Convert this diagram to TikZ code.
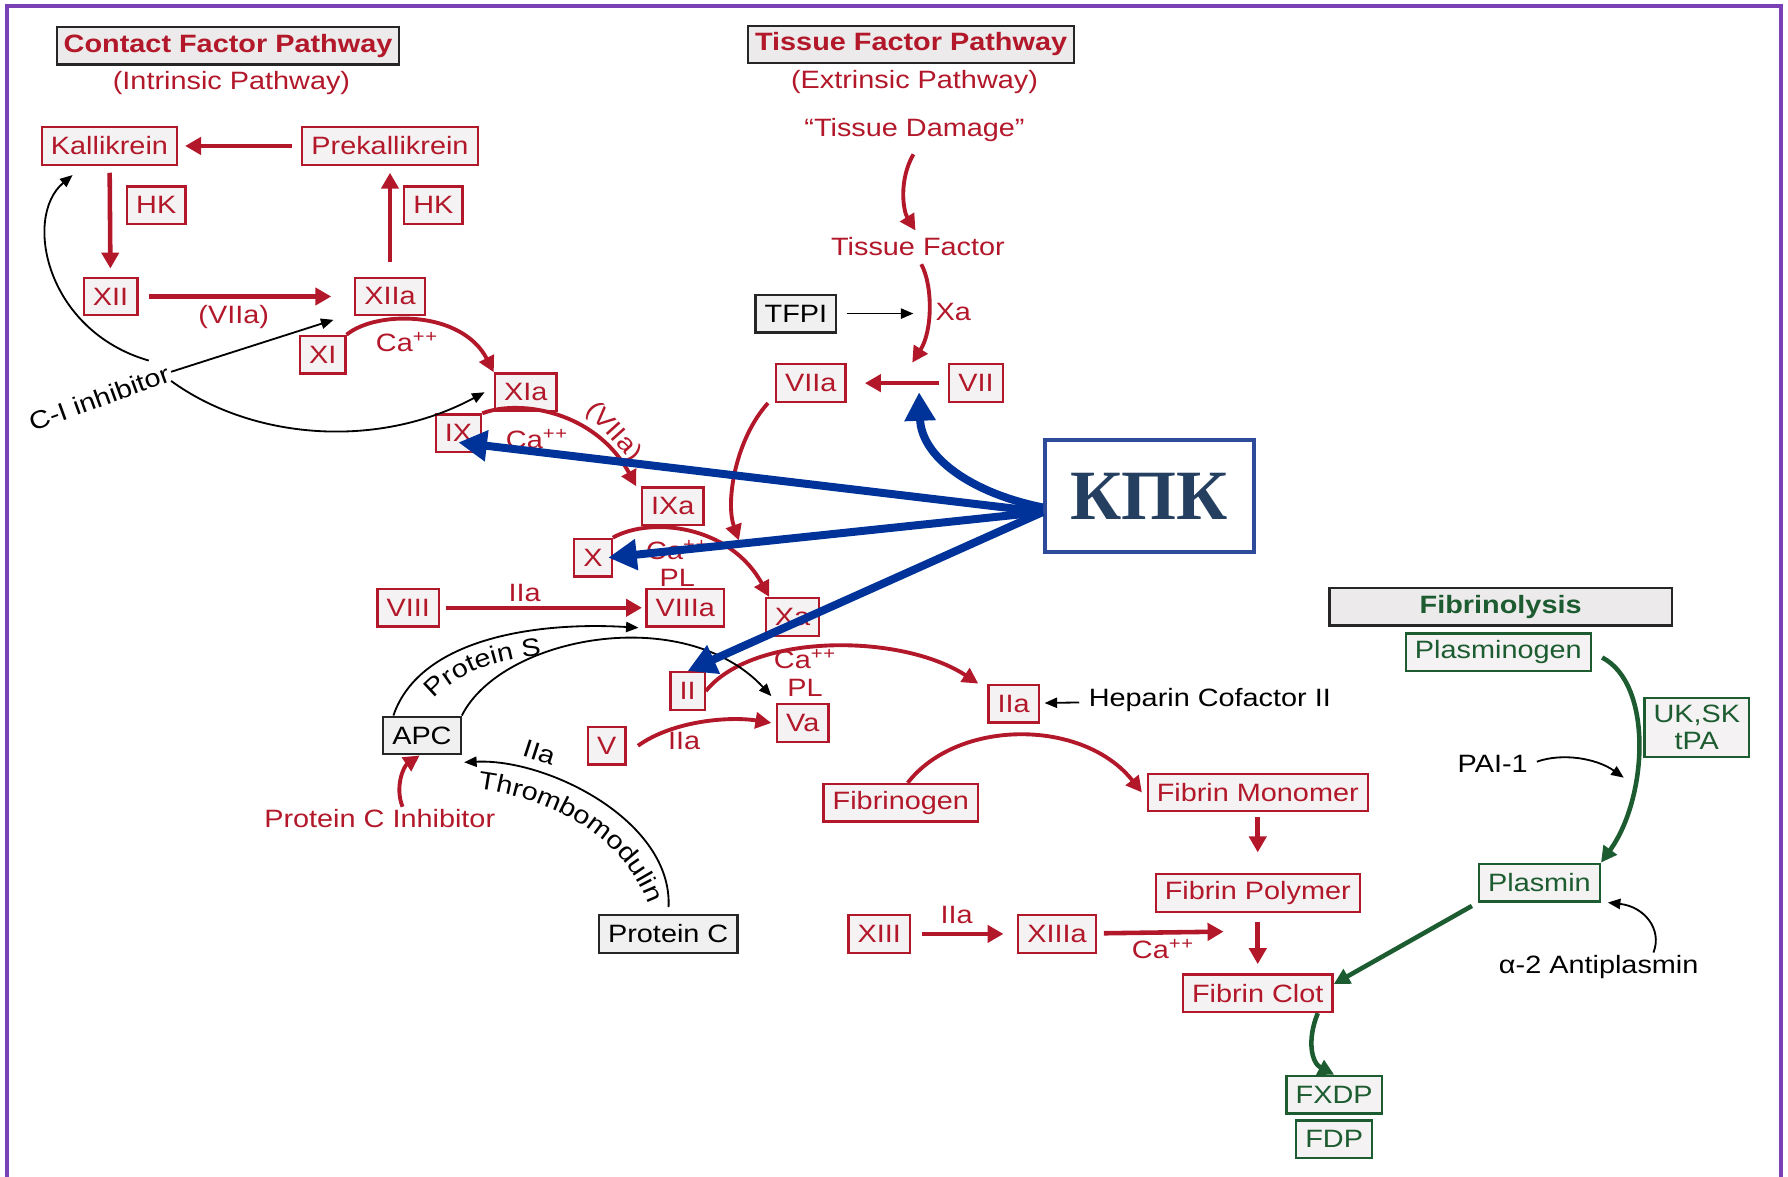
\documentclass[tikz,border=0pt]{standalone}
\usepackage{fontspec}
\setmainfont{Liberation Sans}[FakeStretch=1.15]
\newfontfamily\kpkfont{Liberation Serif}
\usetikzlibrary{arrows.meta,decorations.text}
\definecolor{fred}{RGB}{178,24,42}
\definecolor{fgreen}{RGB}{28,92,48}
\definecolor{boxfill}{RGB}{244,242,242}
\definecolor{headfill}{RGB}{236,234,234}
\definecolor{kblue}{RGB}{0,51,153}
\definecolor{kpkline}{RGB}{46,74,154}
\definecolor{kpktext}{RGB}{36,63,96}
\definecolor{framecol}{RGB}{122,64,182}
\newcommand{\fsz}{\fontsize{11}{12}\selectfont}
\newcommand{\capp}{Ca\textsuperscript{+\kern.3pt+}}
\tikzstyle{fac} = [draw=fred, fill=boxfill, text=fred, line width=1pt, inner xsep=4pt, inner ysep=0pt, minimum height=16.5pt, font=\fsz]
\tikzstyle{inh} = [fac, draw=black!85, fill=gray!12, text=black]
\tikzstyle{lys} = [fac, draw=fgreen, text=fgreen]
\tikzstyle{pathhead} = [fac, draw=black!85, fill=headfill, inner xsep=3pt, font=\fsz\bfseries]
\tikzstyle{lbl} = [text=fred, inner sep=1pt, font=\fsz]
\tikzstyle{blk} = [text=black, inner sep=1pt, font=\fsz]
\tikzstyle{rarr} = [draw=fred, line width=2pt, -{Triangle[length=7pt,width=7.5pt]}]
\tikzstyle{rcurve} = [draw=fred, line width=1.7pt, -{Triangle[length=7pt,width=7pt]}]
\tikzstyle{barr} = [draw=black, line width=0.8pt, -{Triangle[length=5.5pt,width=4.5pt]}]
\tikzstyle{garr} = [draw=fgreen, line width=2pt, -{Triangle[length=7pt,width=7pt]}]
\tikzstyle{kpkarr} = [draw=kblue, line width=3.5pt, -{Triangle[length=12.5pt,width=13pt]}]
\tikzstyle{purpleframe} = [draw=framecol, line width=1.6pt]

\begin{document}
\begin{tikzpicture}[x=0.5pt,y=-0.5pt]
    \useasboundingbox (0,0) rectangle (1568,1032);
    \draw[purpleframe] (6,1032) -- (6,5) -- (1562,5) -- (1562,1032);

    \node[pathhead](cfp) at (200,40){Contact Factor Pathway};
    \node[lbl](intr) at (203,73){(Intrinsic Pathway)};
    \node[pathhead](tfp) at (799,39){Tissue Factor Pathway};
    \node[lbl](extr) at (802,72){(Extrinsic Pathway)};
    \node[pathhead,text=fgreen,minimum width=150pt](fibly) at (1316,532){Fibrinolysis};

    \node[fac](kal) at (96,128){Kallikrein};
    \node[fac](prekal) at (342,128){Prekallikrein};
    \node[fac](hk1) at (137,180){HK};
    \node[fac](hk2) at (380,180){HK};
    \node[fac](xii) at (97,260){XII};
    \node[fac](xiia) at (342,260){XIIa};
    \node[fac](xi) at (283,311){XI};
    \node[fac](xia) at (461,344){XIa};
    \node[fac](ix) at (402,380){IX};
    \node[fac](ixa) at (590,444){IXa};
    \node[fac](fx) at (520,489){X};
    \node[fac](xa) at (695,541){Xa};
    \node[fac](viii) at (358,533){VIII};
    \node[fac](viiia) at (601,533){VIIIa};
    \node[fac](ii) at (603,606){II};
    \node[fac](iia) at (889,617){IIa};
    \node[fac](v) at (532,654){V};
    \node[fac](va) at (704,634){Va};

    \node[lbl](damage) at (802,114){“Tissue Damage”};
    \node[lbl](tf) at (805,216){Tissue Factor};
    \node[inh](tfpi) at (698,275){TFPI};
    \node[lbl](xalbl) at (836,274){Xa};
    \node[fac](viia) at (711,336){VIIa};
    \node[fac](vii) at (856,336){VII};
    \coordinate (xahit) at (801,275);
    \coordinate (vjoin) at (800,318);
    \coordinate (xajoin) at (648,474);

    \node[lbl](l1) at (205,278){(VIIa)};
    \node[lbl](l2) at (357,300){\capp};
    \node[lbl](l3) at (471,385){\capp};
    \node[lbl,rotate=-48](l4) at (538,379){(VIIa)};
    \node[lbl,align=center](l5) at (594,494){\capp\\PL};
    \node[lbl](l6) at (460,520){IIa};
    \node[lbl,align=center](l7) at (706,590){\capp\\PL};
    \node[lbl](l8) at (600,650){IIa};
    \node[lbl](l9) at (839,802){IIa};
    \node[lbl](l10) at (1020,832){\capp};

    \node[inh](apc) at (370,645){APC};
    \node[inh](protc) at (586,819){Protein C};
    \node[lbl](pcinh) at (333,718){Protein C Inhibitor};
    \node[blk,rotate=20](ciinh) at (87,349){C-I inhibitor};
    \node[blk,rotate=-18](iiablk) at (473,660){IIa};
    \node[blk](hep) at (1061,614){Heparin Cofactor II};

    \node[fac](fibgen) at (790,704){Fibrinogen};
    \node[fac](fibmon) at (1103,695){Fibrin Monomer};
    \node[fac](fibpol) at (1103,783){Fibrin Polymer};
    \node[fac](fibclot) at (1103,871){Fibrin Clot};
    \node[fac](xiii) at (771,819){XIII};
    \node[fac](xiiia) at (927,819){XIIIa};
    \coordinate (clotin) at (1073,817);
    \node[lys](fxdp) at (1170,960){FXDP};
    \node[lys](fdp) at (1170,999){FDP};

    \node[lys](plgen) at (1314,572){Plasminogen};
    \node[lys](plasmin) at (1350,774){Plasmin};
    \node[lys,align=center,inner ysep=3pt](uksk) at (1488,638){UK,SK\\tPA};
    \node[blk](pai) at (1309,670){PAI-1};
    \node[blk](anti) at (1402,848){α-2 Antiplasmin};
    \coordinate (paihit) at (1424,682);

    \draw[rarr,shorten <=4pt,shorten >=3pt](prekal)--(kal);
    \draw[rarr,shorten <=3pt,shorten >=3.5pt](kal)--(xii);
    \draw[rarr,shorten <=6.5pt,shorten >=3pt](xiia)--(prekal);
    \draw[rarr,shorten <=4.5pt,shorten >=10pt](xii)--(xiia);
    \draw[rcurve](xi.north east) .. controls (330,272) and (405,272) .. (xia.north west);
    \draw[rcurve](ix.north east) .. controls (455,350) and (522,360) .. ([xshift=-2pt]ixa.north west);
    \draw[rcurve](fx.north east) .. controls (570,453) and (640,460) .. ([xshift=2pt]xa.north west);
    \draw[rcurve]([xshift=-3pt]viia.south west) .. controls (645,385) and (636,440) .. (xajoin);
    \draw[rarr,shorten <=2.5pt,shorten >=1.5pt](viii)--(viiia);
    \draw[rcurve](ii.east) .. controls (660,555) and (790,555) .. ([xshift=-4pt]iia.north west);
    \draw[rcurve]([xshift=5pt]v.east) .. controls (590,632) and (640,628) .. ([xshift=-2pt]va.west);

    \draw[barr]([xshift=5pt]apc.north west) .. controls (368,560) and (470,545) .. ([xshift=-3pt]viiia.south west);
    \draw[barr](apc.north east) .. controls (440,558) and (600,528) .. ([xshift=-2pt,yshift=3pt]va.north west);
    \draw[barr,shorten <=3pt](protc.north) .. controls (590,720) and (480,665) .. ([xshift=1pt,yshift=-3pt]apc.south east);
    \draw[rcurve]([xshift=10pt]pcinh.north) .. controls (346,690) and (354,672) .. ([xshift=-1pt]apc.south);
    \path[decorate,decoration={text along path,text align=center,text={|\fsz|Protein S}}] (374,622) .. controls (394,592) and (432,577) .. (486,574);
    \path[decorate,decoration={text along path,text align=center,text={|\fsz|Thrombomodulin}}] (420,692) .. controls (480,700) and (545,730) .. (568,792);

    \draw[barr]([xshift=-8pt]ciinh.north east) .. controls (40,290) and (20,190) .. ([xshift=14pt,yshift=-4pt]kal.south west);
    \draw[barr](ciinh.east)--([xshift=-9pt,yshift=-1.5pt]xiia.south west);
    \draw[barr]([yshift=-4pt]ciinh.east) .. controls (220,385) and (330,395) .. ([xshift=-4pt]xia.west);

    \draw[rcurve,shorten <=5pt,shorten >=2pt]([xshift=2pt]damage.south) .. controls (788,158) and (792,185) .. (tf.north);
    \draw[rcurve,shorten <=3pt](tf.south) .. controls (818,250) and (818,290) .. (vjoin);
    \draw[barr,shorten <=4pt](tfpi)--(xahit);
    \draw[rarr,shorten <=4pt,shorten >=8pt](vii)--(viia);
    \draw[barr,shorten <=3pt,shorten >=2pt](hep)--(iia);

    \draw[rcurve]([xshift=3pt]fibgen.north) .. controls (840,630) and (950,630) .. ([xshift=-2pt]fibmon.west);
    \draw[rarr,shorten <=2pt,shorten >=9pt](fibmon)--(fibpol);
    \draw[rarr,shorten <=4pt,shorten >=4pt](fibpol)--(fibclot);
    \draw[rarr,shorten <=5pt,shorten >=6pt](xiii)--(xiiia);
    \draw[rarr,shorten <=3pt](xiiia)--(clotin);
    \draw[garr]([xshift=-7pt]fibclot.south east) .. controls (1146,912) and (1150,932) .. (fxdp.north);

    \draw[garr,shorten <=5pt](plgen.east) .. controls (1450,600) and (1445,700) .. (plasmin.north east);
    \draw[barr,shorten <=3pt](pai.east) .. controls (1370,660) and (1400,665) .. (paihit);
    \draw[garr,shorten <=3pt](plasmin.south west)--([yshift=4pt]fibclot.east);
    \draw[barr]([xshift=24pt]anti.north) .. controls (1458,815) and (1442,795) .. ([xshift=3pt]plasmin.south east);

    \node[draw=kpkline,line width=2pt,fill=white,minimum width=91.5pt,minimum height=49pt,text=kpktext,font=\kpkfont\fontsize{31}{31}\selectfont\bfseries](kpk) at (1008,435){КПК};
    \coordinate (kpkout) at ([yshift=-7pt]kpk.west);
    \coordinate (viihit) at (806,344);
    \draw[kpkarr](kpkout)--([yshift=-4pt]ix.center);
    \draw[kpkarr](kpkout)--([xshift=-2pt]fx.east);
    \draw[kpkarr](kpkout)--(ii.north);
    \draw[kpkarr]([yshift=-5pt]kpk.west) .. controls (850,432) and (808,400) .. (viihit);
  \end{tikzpicture}
\end{document}
